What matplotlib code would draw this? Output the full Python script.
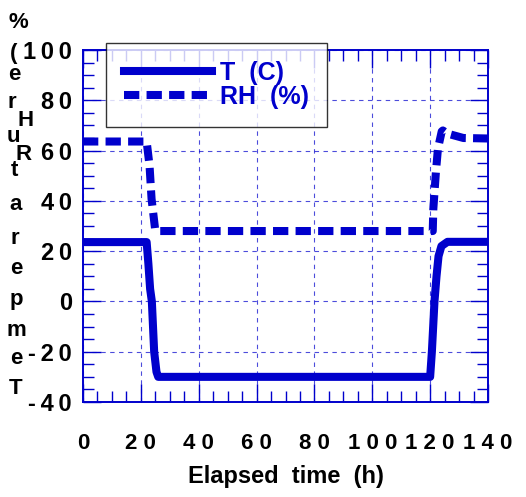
import numpy as np
import matplotlib.pyplot as plt
from matplotlib.ticker import MultipleLocator

plt.rcParams['font.family'] = ['Liberation Sans', 'DejaVu Sans']
plt.rcParams['font.weight'] = 'bold'

# data
t_time = [0, 22, 22.6, 23.2, 23.8, 24.6, 25.4, 26, 120, 120.6, 121.5, 122.2, 122.9, 123.9, 126, 140]
t_val = [23.6, 23.6, 15, 5, 0, -20, -28, -30, -30, -20, 0, 10, 18, 22, 23.7, 23.7]
rh_time = [0, 22, 23, 23.7, 24.9, 25.3, 120.9, 121.1, 122, 122.7, 124, 124.4, 125.8, 131.5, 140]
rh_val = [63.6, 63.6, 54, 40.8, 29, 28, 28, 36.8, 51.6, 60.8, 67.6, 68, 66.8, 65, 64.8]

xticks = [0, 20, 40, 60, 80, 100, 120, 140]
yticks = [-40, -20, 0, 20, 40, 60, 80, 100]

blue = '#0000cc'
thin = '\u2009'

fig = plt.figure(figsize=(5.26, 4.97), dpi=100)
ax = fig.add_axes([83 / 526, 95 / 497, 405 / 526, 352 / 497])

ax.plot(t_time, t_val, color=blue, lw=5.8, solid_joinstyle='round', label='T  (C)')
ax.plot(rh_time, rh_val, color=blue, lw=5.8, linestyle=(0, (1.9, 0.9)), label='RH  (%)')

ax.set_xlim(0, 140)
ax.set_ylim(-40, 100)
ax.set_xticks(xticks)
ax.set_yticks(yticks)
ax.set_xticklabels([' '.join(str(v)) for v in xticks])
ax.set_yticklabels([thin.join(str(v)) for v in yticks])
ax.xaxis.set_minor_locator(MultipleLocator(5))
ax.yaxis.set_minor_locator(MultipleLocator(5))
ax.tick_params(which='both', direction='in', top=True, right=True, color=blue)
ax.tick_params(which='major', length=13, width=1)
ax.tick_params(which='minor', length=8, width=1)
ax.tick_params(axis='x', which='major', pad=22, labelsize=16)
ax.tick_params(axis='y', which='major', pad=8, labelsize=17)
for lab in ax.get_xticklabels() + ax.get_yticklabels():
    lab.set_fontweight('bold')
for s in ax.spines.values():
    s.set_color(blue)
    s.set_linewidth(1.4)
ax.grid(True, which='major', color=blue, lw=0.8, linestyle=(0, (4, 4)), alpha=0.7)

ax.set_xlabel('Elapsed  time  (h)', fontsize=17, fontweight='bold', labelpad=8)

leg = ax.legend(loc='upper left', bbox_to_anchor=(106 / 526, 1 - 43 / 497),
                bbox_transform=fig.transFigure, frameon=True,
                fancybox=False, edgecolor='black', fontsize=18, handlelength=3.5,
                borderpad=0.72, labelspacing=0.0, handletextpad=0.35, borderaxespad=0)
leg.get_frame().set_linewidth(1.0)
for txt in leg.get_texts():
    txt.set_color(blue)
    txt.set_fontweight('bold')

# stacked y-label letters as they appear in the figure
letters = ['T', 'e', 'm', 'p', 'e', 'r', 'a', 't', 'u', 'r', 'e', '(', '%']
ys = [389, 358, 330, 300, 268, 238, 204, 170, 136, 102, 75, 53, 22]
xs = [16, 16, 16, 16, 16, 15, 16, 14, 13, 12, 14, 14, 18]
for ch, x, y in zip(letters, xs, ys):
    fig.text(x / 526, 1 - y / 497, ch, fontsize=16, fontweight='bold', ha='center', va='center')
fig.text(24 / 526, 1 - 154 / 497, 'R', fontsize=16, fontweight='bold', ha='center', va='center')
fig.text(26 / 526, 1 - 120 / 497, 'H', fontsize=16, fontweight='bold', ha='center', va='center')

fig.savefig('out.png', dpi=100)
